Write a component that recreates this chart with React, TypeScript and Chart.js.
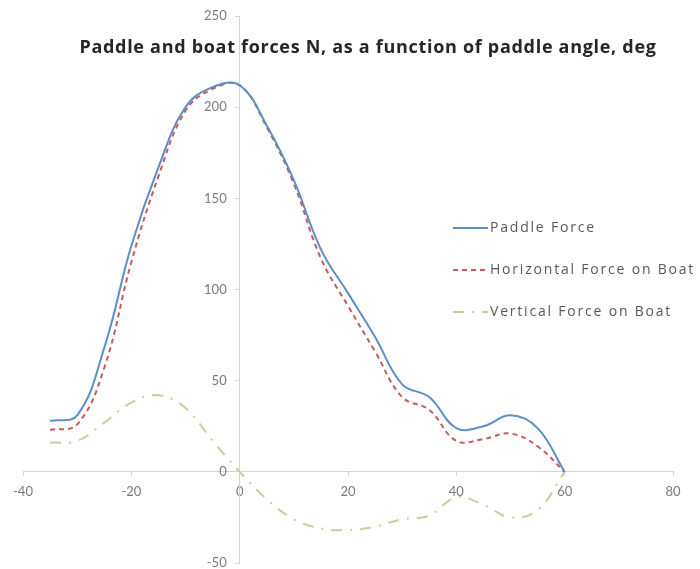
import React, { useEffect, useRef } from 'react';
import { Chart, registerables } from 'chart.js';

Chart.register(...registerables);

const angles = [-35, -30, -25, -20, -15, -10, -5, 0, 5, 10, 15, 20, 25, 30, 35, 40, 45, 50, 55, 60];
const paddleForce = [28, 31, 68, 124, 167, 200, 211, 212, 190, 160, 122, 98, 74, 48, 41, 24, 25, 31, 24, 0];
const horizontalForce = [23, 26, 57, 115, 162, 198, 210, 212, 189, 158, 117, 91, 66, 41, 34, 17, 18, 21, 14, 0];
const verticalForce = [16, 17, 27, 38, 42, 35, 17, 0, -15, -26, -31, -32, -30, -26, -24, -14, -18, -25, -21, 0];
const xTicks = [-40, -20, 0, 20, 40, 60, 80];
const yTicks = [-50, 0, 50, 100, 150, 200, 250];
const seriesNames = ['Paddle Force', 'Horizontal Force on Boat', 'Vertical Force on Boat'];
const titleText = 'Paddle and boat forces N, as a function of paddle angle, deg';

const W = 700;
const H = 569;
const TICK_COLOR = '#7a7a7a';
const TICK_FONT = '13px Lato';

const titlePlugin = {
  id: 'innerTitle',
  afterDraw(chart: any) {
    const ctx = chart.ctx;
    ctx.save();
    ctx.font = 'bold 18px "Open Sans"';
    (ctx as any).letterSpacing = '0.7px';
    ctx.fillStyle = '#262626';
    ctx.textAlign = 'center';
    ctx.textBaseline = 'middle';
    ctx.fillText(titleText, 368, 48);
    ctx.restore();
  },
};

const yLabelPlugin = {
  id: 'yLabels',
  afterDraw(chart: any) {
    const ctx = chart.ctx;
    const xs = chart.scales.x;
    const ys = chart.scales.y;
    const ax = xs.getPixelForValue(0);
    ctx.save();
    ctx.font = TICK_FONT;
    ctx.fillStyle = TICK_COLOR;
    ctx.textAlign = 'right';
    ctx.textBaseline = 'middle';
    yTicks.forEach((v) => {
      ctx.fillText(String(v), ax - 13, ys.getPixelForValue(v));
    });
    ctx.restore();
  },
};

const legendPlugin = {
  id: 'sideLegend',
  afterDraw(chart: any) {
    const ctx = chart.ctx;
    const x0 = 453;
    const y0 = 228;
    const gap = 42;
    chart.data.datasets.forEach((ds: any, i: number) => {
      const y = y0 + i * gap;
      ctx.save();
      ctx.strokeStyle = ds.borderColor;
      ctx.lineWidth = ds.borderWidth;
      ctx.setLineDash(ds.borderDash || []);
      ctx.beginPath();
      ctx.moveTo(x0, y);
      ctx.lineTo(x0 + 35, y);
      ctx.stroke();
      ctx.setLineDash([]);
      ctx.fillStyle = '#595959';
      ctx.font = '14px "Open Sans"';
      ctx.textBaseline = 'middle';
      ctx.textAlign = 'left';
      (ctx as any).letterSpacing = '1.8px';
      ctx.fillText(ds.label, x0 + 37, y);
      ctx.restore();
    });
  },
};

export default function App() {
  const ref = useRef<HTMLCanvasElement | null>(null);

  useEffect(() => {
    document.body.style.margin = '0';
    const canvas = ref.current;
    if (!canvas) return;
    const mk = (vals: number[]) => angles.map((a, i) => ({ x: a, y: vals[i] }));
    const chart = new Chart(canvas, {
      type: 'line',
      data: {
        datasets: [
          {
            label: seriesNames[0],
            data: mk(paddleForce),
            borderColor: '#5b8fc6',
            borderWidth: 2,
            pointRadius: 0,
            tension: 0.4,
            fill: false,
          },
          {
            label: seriesNames[1],
            data: mk(horizontalForce),
            borderColor: '#c95a5c',
            borderWidth: 2,
            borderDash: [5, 4],
            pointRadius: 0,
            tension: 0.4,
            fill: false,
          },
          {
            label: seriesNames[2],
            data: mk(verticalForce),
            borderColor: '#c2d29a',
            borderWidth: 2,
            borderDash: [11, 8, 2, 8],
            pointRadius: 0,
            tension: 0.4,
            fill: false,
          },
        ],
      },
      options: {
        animation: false,
        responsive: false,
        devicePixelRatio: 1,
        layout: { padding: { left: 23, right: 27, top: 16, bottom: 6 } },
        plugins: {
          legend: { display: false },
          title: { display: false },
          tooltip: { enabled: false },
        },
        scales: {
          x: {
            type: 'linear',
            min: -40,
            max: 80,
            position: { y: 0 } as any,
            afterBuildTicks: (s: any) => {
              s.ticks = xTicks.map((v) => ({ value: v }));
            },
            afterFit: (s: any) => {
              s.paddingLeft = 0;
              s.paddingRight = 0;
              s.paddingTop = 0;
              s.paddingBottom = 0;
            },
            grid: {
              drawOnChartArea: false,
              drawTicks: true,
              tickLength: 4,
              color: '#d4d4d4',
            },
            border: { color: '#d4d4d4', width: 1 },
            ticks: {
              padding: 8,
              color: TICK_COLOR,
              font: { family: 'Lato', size: 13 },
              maxRotation: 0,
            },
          },
          y: {
            type: 'linear',
            min: -50,
            max: 250,
            position: { x: 0 } as any,
            afterBuildTicks: (s: any) => {
              s.ticks = yTicks.map((v) => ({ value: v }));
            },
            afterFit: (s: any) => {
              s.paddingLeft = 0;
              s.paddingRight = 0;
              s.paddingTop = 0;
              s.paddingBottom = 0;
            },
            grid: {
              drawOnChartArea: false,
              drawTicks: true,
              tickLength: 4,
              color: '#d4d4d4',
            },
            border: { color: '#d4d4d4', width: 1 },
            ticks: {
              display: false,
            },
          },
        },
      },
      plugins: [titlePlugin, yLabelPlugin, legendPlugin],
    });
    return () => chart.destroy();
  }, []);

  return (
    <div style={{ width: W, height: H, background: '#ffffff' }}>
      <canvas ref={ref} width={W} height={H} style={{ display: 'block' }} />
    </div>
  );
}
